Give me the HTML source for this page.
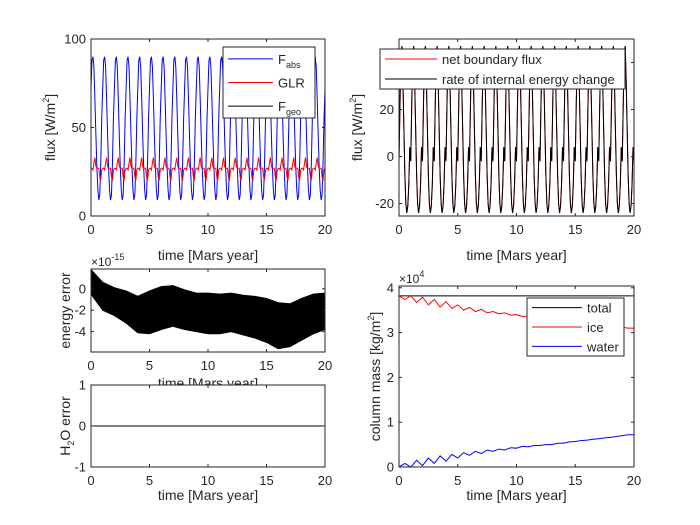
<!DOCTYPE html>
<html><head><meta charset="utf-8"><style>
body{margin:0;background:#fff;}
svg{display:block;font-family:"Liberation Sans",Arial,sans-serif;}
text{fill:#262626;}
</style></head><body>
<svg id="fig" width="700" height="525"></svg>
<script>
// ---- data ----
const yearsN = 20;
const fabsCycle = [72,88,90,84,66,46,28,15,9,12,30,55];
const glrCycle = [27,27,26,30,33,28,27,27,27,22,20,26];
const netCycle = [-2,22,44,47,32,12,-8,-20,-24,-21,-12,4];
const errYears = [0,1,2,3,4,5,6,7,8,9,10,11,12,13,14,15,16,17,18,19,20];
const errUpper = [1.8,0.6,0.1,-0.2,-0.7,-0.2,0.2,0.3,-0.1,-0.4,-0.4,-0.5,-0.4,-0.6,-0.7,-0.9,-1.3,-1.4,-0.9,-0.5,-0.4];
const errLower = [-0.5,-2,-2.5,-3.2,-4.1,-4.2,-3.8,-3.5,-3.8,-4,-4.2,-4.2,-4,-4.3,-4.6,-5,-5.6,-5.4,-4.8,-4.2,-3.8];
const massTotal = 3.82;
const waterMass = [0,0.08,0,0.15,0.03,0.2,0.08,0.25,0.13,0.28,0.2,0.32,0.26,0.35,0.3,0.38,0.35,0.4,0.38,0.43,0.42,0.46,0.45,0.48,0.48,0.5,0.5,0.53,0.53,0.56,0.57,0.59,0.6,0.62,0.63,0.65,0.66,0.68,0.7,0.72,0.72];
const iceMass = [3.82,3.74,3.82,3.67,3.79,3.62,3.74,3.57,3.69,3.54,3.62,3.5,3.56,3.47,3.52,3.44,3.47,3.42,3.44,3.39,3.4,3.36,3.37,3.34,3.34,3.32,3.32,3.29,3.29,3.26,3.25,3.23,3.22,3.2,3.19,3.17,3.16,3.14,3.12,3.1,3.1];
const xTicks = [0,5,10,15,20];

const svg = document.getElementById('fig');
const NS = 'http://www.w3.org/2000/svg';
const defs = document.createElementNS(NS,'defs'); svg.appendChild(defs);
let clipId=0;
function mk(tag, attrs, parent){const e=document.createElementNS(NS,tag);for(const k in attrs)e.setAttribute(k,attrs[k]);(parent||svg).appendChild(e);return e;}
function txt(x,y,s,anchor,size,parent,rot){const t=mk('text',{x:x,y:y,'text-anchor':anchor||'middle','font-size':size||12},parent);if(rot)t.setAttribute('transform','rotate(-90 '+x+' '+y+')');t.innerHTML=s;return t;}

function axes(name,x0,x1,y0,y1,ymin,ymax,yTicks,ylabel,ylabX,xlabelY){
  const g=mk('g',{});
  
  
  const sx=v=>x0+(v-0)/(20-0)*(x1-x0);
  const sy=v=>y1-(v-ymin)/(ymax-ymin)*(y1-y0);
  const cid='clip'+(clipId++);
  const cp=mk('clipPath',{id:cid},defs);
  mk('rect',{x:x0,y:y0,width:x1-x0,height:y1-y0},cp);
  mk('rect',{x:x0,y:y0,width:x1-x0,height:y1-y0,fill:'#fff'},g);
  const plot=mk('g',{'clip-path':'url(#'+cid+')'},g);
  const frame=mk('g',{},g);
  mk('rect',{x:x0,y:y0,width:x1-x0,height:y1-y0,fill:'none',stroke:'#262626','stroke-width':1},frame);
  xTicks.forEach(v=>{const x=sx(v);
    mk('line',{x1:x,x2:x,y1:y1,y2:y1-3,stroke:'#262626'},frame);
    mk('line',{x1:x,x2:x,y1:y0,y2:y0+3,stroke:'#262626'},frame);
    const t=txt(x,y1+18,v,'middle',13,frame);
    
    });
  yTicks.forEach(v=>{const y=sy(v);
    mk('line',{x1:x0,x2:x0+3,y1:y,y2:y,stroke:'#262626'},frame);
    mk('line',{x1:x1,x2:x1-3,y1:y,y2:y,stroke:'#262626'},frame);
    const t=txt(x0-5,y+4.5,v,'end',13,frame);
    
    });
  const xl=txt((x0+x1)/2,xlabelY,'time [Mars year]','middle',14,frame);
  
  
  const yl=txt(ylabX,(y0+y1)/2,ylabel,'middle',14,frame,true);
  
  
  return {g,plot,frame,sx,sy};
}
function cycleLine(ax,cycle,color,name){
  let d='';const n=cycle.length;
  for(let yr=0;yr<yearsN;yr++)for(let i=0;i<n;i++){
    const t0=yr+i/n,v=cycle[i];
    d+=(d?'L':'M')+ax.sx(t0).toFixed(2)+','+ax.sy(v).toFixed(2);}
  d+='L'+ax.sx(yearsN)+','+ax.sy(cycle[0]);
  const p=mk('path',{d:d,fill:'none',stroke:color,'stroke-width':1},ax.plot);
  
  
  return p;
}
function seriesLine(ax,vals,color,name){
  const n=vals.length-1;let d='';
  vals.forEach((v,i)=>{d+=(i?'L':'M')+ax.sx(i*20/n)+','+ax.sy(v);});
  const p=mk('path',{d:d,fill:'none',stroke:color,'stroke-width':1},ax.plot);
  
  
}
function legend(ax,x,y,w,h,items,lineLen){
  const g=mk('g',{},ax.frame);
  
  
  mk('rect',{x:x,y:y,width:w,height:h,fill:'#fff',stroke:'#262626'},g);
  items.forEach((it,i)=>{const cy=y+h*(i+0.5)/items.length;
    const e=mk('g',{},g);
    
    
    mk('line',{x1:x+5,x2:x+5+lineLen,y1:cy,y2:cy,stroke:it.c},e);
    txt(x+10+lineLen,cy+5,it.s,'start',13,e);});
}

// Plot 1
const a1=axes('flux-axes',91,325,39,216,0,100,[0,50,100],'flux [W/m<tspan font-size="9" dy="-6">2</tspan><tspan dy="6">]</tspan>',55,260);
cycleLine(a1,fabsCycle,'#0000ff','fabs-line');
cycleLine(a1,glrCycle,'#ff0000','glr-line');
seriesLine(a1,[0,0],'#000','fgeo-line');
legend(a1,223,47,92,71,[
 {c:'#0000ff',s:'F<tspan font-size="9" dy="4">abs</tspan>'},
 {c:'#ff0000',s:'GLR'},
 {c:'#000',s:'F<tspan font-size="9" dy="4">geo</tspan>'}],45);

// Plot 2
const a2=axes('net-flux-axes',399,634,39,216,-25.3,50,[-20,0,20,40],'flux [W/m<tspan font-size="9" dy="-6">2</tspan><tspan dy="6">]</tspan>',362,260);
cycleLine(a2,netCycle,'#ff0000','net-boundary-flux-line');
cycleLine(a2,netCycle,'#000','internal-energy-rate-line');
legend(a2,380,49,245,40,[
 {c:'#ff0000',s:'net boundary flux'},
 {c:'#000',s:'rate of internal energy change'}],52);

// Plot 3
const a3=axes('energy-error-axes',91,325,269,352,-5.9,1.85,[-4,-2,0],'energy error',70,388);
(function(){let d='';errYears.forEach((t,i)=>{d+=(i?'L':'M')+a3.sx(t)+','+a3.sy(errUpper[i]);});
 for(let i=errYears.length-1;i>=0;i--)d+='L'+a3.sx(errYears[i])+','+a3.sy(errLower[i]);
 const p=mk('path',{d:d+'Z',fill:'#000',stroke:'#000'},a3.plot);
 
 })();
txt(91,266,'×10<tspan font-size="9" dy="-6">-15</tspan>','start',12,a3.frame);

// Plot 4
const a4=axes('h2o-error-axes',91,325,385,467,-1,1,[-1,0,1],'H<tspan font-size="9" dy="4">2</tspan><tspan dy="-4">O error</tspan>',70,500);
seriesLine(a4,[0,0],'#000','h2o-error-line');

// Plot 5
const a5=axes('column-mass-axes',399,634,286,467,0,4.04,[0,1,2,3,4],'column mass [kg/m<tspan font-size="9" dy="-6">2</tspan><tspan dy="6">]</tspan>',380,500);
seriesLine(a5,[massTotal,massTotal],'#000','total-mass-line');
seriesLine(a5,iceMass,'#ff0000','ice-mass-line');
seriesLine(a5,waterMass,'#0000ff','water-mass-line');
legend(a5,527,298,97,58,[
 {c:'#000',s:'total'},{c:'#ff0000',s:'ice'},{c:'#0000ff',s:'water'}],50);
txt(399,283,'×10<tspan font-size="9" dy="-6">4</tspan>','start',12,a5.frame);
</script>
</body></html>
